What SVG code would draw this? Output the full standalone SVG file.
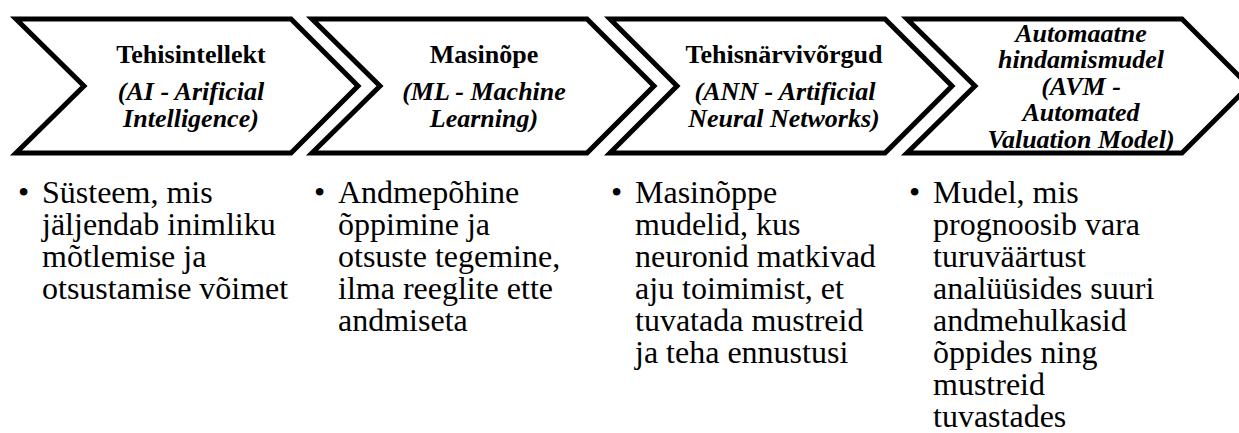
<svg xmlns="http://www.w3.org/2000/svg" width="1239" height="433" viewBox="0 0 1239 433">
<defs>
<style>
.chev{fill:#fff;stroke:#000;stroke-width:5;stroke-linejoin:miter}
</style>
</defs>
<rect width="1239" height="433" fill="#fff"/>
<g id="node1">
<polygon class="chev" points="16,19 291,19 358,86 291,153 16,153 84,86"/>
<g font-family="Liberation Serif" font-size="26" font-weight="bold" text-anchor="middle" fill="#000">
<text x="191" y="63">Tehisintellekt</text>
<text x="191" y="100" font-style="italic">(AI - Arificial</text>
<text x="191" y="127" font-style="italic">Intelligence)</text>
</g>
<g font-family="Liberation Serif" font-size="32" fill="#000">
<text x="18" y="203">•</text>
<text x="42" y="203"><tspan x="42">Süsteem, mis</tspan><tspan x="42" dy="32">jäljendab inimliku</tspan><tspan x="42" dy="32">mõtlemise ja</tspan><tspan x="42" dy="32">otsustamise võimet</tspan></text>
</g>
</g>
<g id="node2">
<polygon class="chev" points="312,19 587,19 654,86 587,153 312,153 380,86"/>
<g font-family="Liberation Serif" font-size="26" font-weight="bold" text-anchor="middle" fill="#000">
<text x="484" y="63">Masinõpe</text>
<text x="484" y="100" font-style="italic">(ML - Machine</text>
<text x="484" y="127" font-style="italic">Learning)</text>
</g>
<g font-family="Liberation Serif" font-size="32" fill="#000">
<text x="314" y="203">•</text>
<text x="338" y="203"><tspan x="338">Andmepõhine</tspan><tspan x="338" dy="32">õppimine ja</tspan><tspan x="338" dy="32">otsuste tegemine,</tspan><tspan x="338" dy="32">ilma reeglite ette</tspan><tspan x="338" dy="32">andmiseta</tspan></text>
</g>
</g>
<g id="node3">
<polygon class="chev" points="610,19 885,19 952,86 885,153 610,153 677,86"/>
<g font-family="Liberation Serif" font-size="26" font-weight="bold" text-anchor="middle" fill="#000">
<text x="784" y="63">Tehisnärvivõrgud</text>
<text x="785" y="100" font-style="italic">(ANN - Artificial</text>
<text x="784" y="127" font-style="italic">Neural Networks)</text>
</g>
<g font-family="Liberation Serif" font-size="32" fill="#000">
<text x="611" y="203">•</text>
<text x="635" y="203"><tspan x="635">Masinõppe</tspan><tspan x="635" dy="32">mudelid, kus</tspan><tspan x="635" dy="32">neuronid matkivad</tspan><tspan x="635" dy="32">aju toimimist, et</tspan><tspan x="635" dy="32">tuvatada mustreid</tspan><tspan x="635" dy="32">ja teha ennustusi</tspan></text>
</g>
</g>
<g id="node4">
<polygon class="chev" points="907,19 1182,19 1249,86 1182,153 907,153 975,86"/>
<g font-family="Liberation Serif" font-size="26" font-weight="bold" font-style="italic" text-anchor="middle" fill="#000">
<text x="1081" y="42">Automaatne</text>
<text x="1081" y="68">hindamismudel</text>
<text x="1081" y="95">(AVM -</text>
<text x="1081" y="121">Automated</text>
<text x="1081" y="148">Valuation Model)</text>
</g>
<g font-family="Liberation Serif" font-size="32" fill="#000">
<text x="909" y="203">•</text>
<text x="933" y="203"><tspan x="933">Mudel, mis</tspan><tspan x="933" dy="32">prognoosib vara</tspan><tspan x="933" dy="32">turuväärtust</tspan><tspan x="933" dy="32">analüüsides suuri</tspan><tspan x="933" dy="32">andmehulkasid</tspan><tspan x="933" dy="32">õppides ning</tspan><tspan x="933" dy="32">mustreid</tspan><tspan x="933" dy="32">tuvastades</tspan></text>
</g>
</g>
<g id="connectors"/>
</svg>
